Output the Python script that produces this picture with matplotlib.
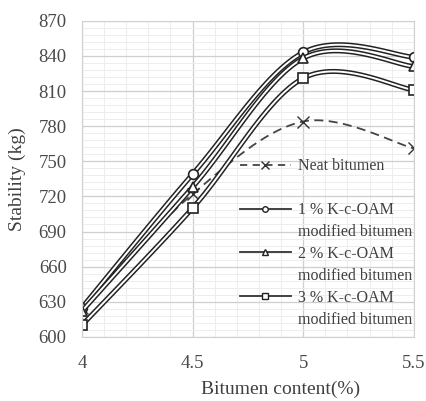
import numpy as np
import matplotlib.pyplot as plt
import matplotlib.patheffects as pe
from matplotlib.ticker import MultipleLocator, AutoMinorLocator

plt.rcParams['font.family'] = ['Liberation Serif', 'DejaVu Serif']

# data
bitumen = [4, 4.5, 5, 5.5]
neat = [625, 722, 784, 761]
koam1 = [625, 739, 843, 839]
koam2 = [622, 728, 838, 831]
koam3 = [610, 710, 821, 811]


def smooth(x, y, n=40):
    # bezier through the points, excel style smoothed line
    p = np.column_stack([x, y]).astype(float)
    pts = []
    t = np.linspace(0, 1, n)[:, None]
    for i in range(len(p) - 1):
        p0 = p[max(i - 1, 0)]
        p1, p2 = p[i], p[i + 1]
        p3 = p[min(i + 2, len(p) - 1)]
        c1 = p1 + (p2 - p0) / 6
        c2 = p2 - (p3 - p1) / 6
        seg = ((1 - t) ** 3 * p1 + 3 * (1 - t) ** 2 * t * c1
               + 3 * (1 - t) * t ** 2 * c2 + t ** 3 * p2)
        pts.append(seg)
    pts = np.vstack(pts)
    return pts[:, 0], pts[:, 1]


fig = plt.figure(figsize=(4.27, 4.01), dpi=100)
ax = fig.add_axes([0.192, 0.16, 0.777, 0.788])

dbl = [pe.Stroke(linewidth=3.6, foreground='#222222'), pe.Stroke(linewidth=1.4, foreground='white')]

sx, sy = smooth(bitumen, neat)
ax.plot(sx, sy, color='#444444', lw=1.3, ls=(0, (5, 3)))
ax.plot(bitumen, neat, ls='none', marker='x', ms=8, mec='#333333', mew=1.0)
h_neat, = ax.plot([], [], color='#444444', lw=1.3, ls=(0, (4, 3)), marker='x', ms=6,
                  mec='#333333')

handles = [h_neat, plt.Line2D([], [], ls='none')]
labels = ['Neat bitumen', ' ']
series = [(koam1, 'o', '1 % K-c-OAM'),
          (koam2, '^', '2 % K-c-OAM'),
          (koam3, 's', '3 % K-c-OAM')]
for vals, m, lab in series:
    sx, sy = smooth(bitumen, vals)
    ax.plot(sx, sy, color='#222222', lw=1, path_effects=dbl)
    ax.plot(bitumen, vals, ls='none', marker=m, ms=7, mfc='white', mec='#222222', mew=1.2)
    h, = ax.plot([], [], color='#333333', lw=1.3, marker=m, ms=4, mfc='white', mec='#222222')
    handles += [h, plt.Line2D([], [], ls='none')]
    labels += [lab, 'modified bitumen']

ax.set_xlim(4, 5.5)
ax.set_ylim(600, 870)
ax.yaxis.set_major_locator(MultipleLocator(30))
ax.set_xticks(bitumen)
ax.set_xticklabels(['4', '4.5', '5', '5.5'])
ax.xaxis.set_minor_locator(AutoMinorLocator(5))
ax.yaxis.set_minor_locator(AutoMinorLocator(5))
ax.grid(which='major', color='#cfcfcf', lw=0.9)
ax.grid(which='minor', color='#ededed', lw=0.7)
ax.set_axisbelow(True)
ax.tick_params(which='both', length=0, labelsize=13.5, colors='#4a4a4a')
ax.tick_params(axis='y', pad=11)
ax.tick_params(axis='x', pad=13)
for s in ax.spines.values():
    s.set_color('#d0d0d0')

ax.set_xlabel('Bitumen content(%)', fontsize=14, color='#404040', va='center')
ax.xaxis.set_label_coords(0.6, -0.165)
ax.set_ylabel('Stability (kg)', fontsize=14, color='#404040', va='center')
ax.yaxis.set_label_coords(-0.196, 0.5)

leg = ax.legend(handles, labels, loc='upper left', bbox_to_anchor=(0.475, 0.565), frameon=False,
                fontsize=11.5, handlelength=3.2, labelspacing=0.37, borderaxespad=0,
                borderpad=0, handletextpad=0.45)
for t in leg.get_texts():
    t.set_color('#404040')

fig.savefig('out.png', dpi=100)
